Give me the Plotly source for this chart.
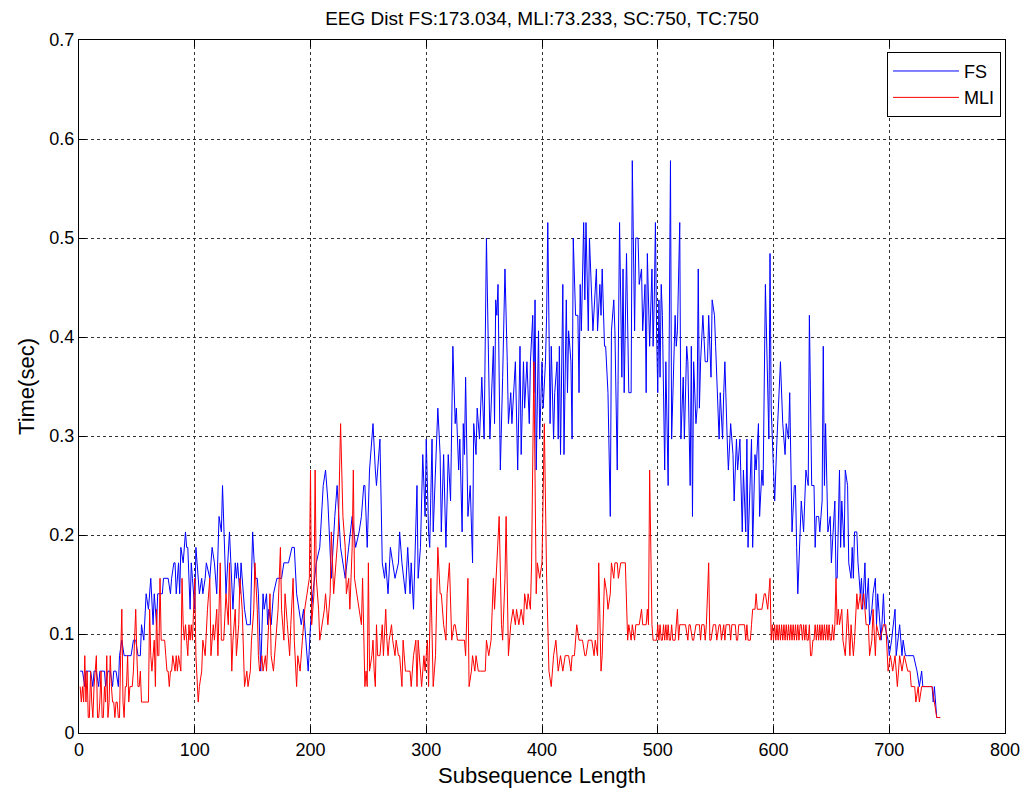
import plotly.graph_objects as go

# FS (blue) readings: x position and time in timer ticks (1 tick = 1/64 s)
fs_pts = [
 (1,4),(3,4),(5,3),(6,4),(8,4),(10,4),(12,3),(13,4),(15,4),(17,3),(18,4),(20,4),(22,4),(23,3),(25,4),(27,4),(29,3),(30,4),(32,4),(34,3),(35,5),(37,6),(39,5),(41,5),(43,5),(45,5),(47,6),(49,6),(51,5),(53,5),(54,7),(56,6),(58,9),(60,8),(62,10),(64,7),(65,9),(67,7),(68,9),(70,9),(72,9),(73,10),(75,10),(77,10),(79,9),(80,10),(82,11),
 (83,11),(84,9),(86,11),(87,9),(88,12),(90,11),(92,13),(93,12),(94,12),(96,8),(97,11),(98,10),(100,8),(101,12),(103,10),(104,9),(106,10),(107,9),(109,10),(110,11),(113,10),(115,12),(117,11),(119,9),(121,14),(123,13),(124,16),(126,12),(127,9),(130,13),(133,8),(135,11),(136,10),(137,11),(139,9),(140,11),(142,9),(143,8),(145,7),(148,7),(150,13),(152,10),(154,10),(155,9),(157,4),(159,9),(160,8),(162,9),
 (163,7),(164,8),(166,7),(168,9),(171,10),(173,10),(175,10),(177,11),(181,11),(184,12),(186,12),(188,9),(190,8),(192,7),(194,8),(196,6),(198,4),(200,7),(202,9),(205,11),(208,12),(211,16),(213,17),(215,15),(218,10),(221,14),(223,16),(226,12),(228,11),(230,10),(233,12),(236,14),(239,12),(242,13),(244,14),(246,16),
 (247,16),(249,12),(251,17),(254,20),(256,17),(257,16),(260,19),(262,11),(264,10),(265,11),(267,9),(269,12),(271,11),(273,10),(276,11),(277,13),(279,11),(282,9),(284,12),(286,9),(287,11),(289,8),(292,16),(293,10),(295,12),(297,18),(299,14),(300,19),(302,13),(303,12),(305,19),(306,13),(309,19),(310,21),(312,18),(313,13),(315,18),(317,12),(319,18),(321,15),(323,25),(325,20),(326,21),(328,17),(329,19),
 (331,13),(332,20),(333,18),(334,23),(336,14),(338,16),(340,11),(341,20),(343,18),(344,21),(346,19),(348,23),(350,19),(352,32),(355,19),(358,25),(359,20),(360,28),(361,27),(362,29),(364,17),(366,23),(368,30),(370,24),(371,20),(373,22),(374,20),(377,24),(379,17),(381,25),(382,18),(384,24),(385,21),(387,24),(389,20),(390,24),(392,27),(393,22),(394,28),(395,17),(397,26),(398,19),(400,24),(401,21),(403,24),(404,27),(405,33),(407,20),
 (408,25),(410,19),(411,22),(413,24),(414,19),(415,25),(416,18),(418,29),(419,18),(421,28),(422,22),(423,26),(425,24),(426,19),(427,32),(429,27),(431,27),(432,22),(433,29),(434,26),(436,33),(437,28),(438,33),(440,26),(441,32),(444,26),(447,30),(448,26),(450,29),(451,27),(452,30),(454,25),(455,25),(457,22),(459,14),(460,26),(462,28),(463,26),(465,17),(467,33),(469,23),(470,30),(471,22),(473,31),(475,22),(477,22),(478,37),(480,26),(481,32),(483,32),(484,29),(486,30),(487,26),(489,29),(490,22),(491,31),(493,25),(495,30),
 (496,25),(497,28),(498,33),(499,26),(500,22),(501,28),(502,23),(503,29),(504,27),(506,17),(507,24),(509,16),(511,37),(512,19),(515,27),(516,25),(517,26),(519,33),(520,19),(522,23),(523,19),(525,25),(526,24),(528,16),(529,25),(530,14),(531,24),(533,20),(534,21),(535,30),(536,21),(537,24),(539,27),(541,24),(543,24),(544,27),(546,23),(547,28),(549,27),(550,25),(553,19),(554,22),(556,19),(557,22),(558,24),(560,19),(561,17),(563,20),(565,18),(566,15),(568,19),(569,17),(571,19),(573,13),(574,17),(576,13),(577,19),(578,12),
 (579,14),(581,19),(582,12),(584,18),(585,17),(587,20),(588,14),(590,17),(591,16),(593,29),(596,19),(597,31),(598,21),(600,16),(601,15),(603,19),(606,24),(608,20),(610,18),(611,20),(613,19),(614,22),(616,13),(618,16),(619,16),(620,12),(621,9),(624,15),(626,13),(628,17),(630,16),(631,27),(633,16),(635,16),(636,12),(637,14),(639,14),(640,13),(642,15),(643,25),(644,16),(645,20),(647,13),(649,14),(650,11),(653,15),(654,10),(655,10),(656,14),(657,17),
 (658,12),(659,15),(661,12),(662,17),(664,16),(665,11),(667,10),(668,12),(669,10),(670,13),(672,13),(673,11),(675,9),(676,10),(677,8),(679,11),(680,8),(682,10),(683,7),(685,8),(686,9),(688,10),(689,7),(690,9),(693,6),(695,9),(696,7),(699,6),(700,5),(702,6),(705,8),(706,5),(709,7),(711,5),(712,6),(714,5),(716,5),(718,5),(721,5),(724,4),(726,3),(728,4),(729,3),(732,3),(734,3),(735,3),(737,3),(738,2),(739,3),(741,1),(744,1),
]

# MLI (red) readings
mli_pts = [
 (1,3),(2,2),(3,3),(4,2),(5,5),(6,2),(7,4),(8,1),(9,1),(10,4),(11,2),(12,1),(13,3),(14,4),(15,5),(16,1),(17,1),(18,2),(19,4),(20,1),(21,1),(22,3),(23,2),(24,5),(25,1),(26,2),(27,5),(28,3),(29,2),(30,2),(31,1),(32,2),(33,2),(34,1),(35,1),(36,5),(37,8),(38,2),(39,1),(40,3),(41,3),(42,5),(43,2),(44,3),(45,3),(46,3),(47,4),(48,6),(49,8),(50,5),(51,3),(52,3),(53,4),(54,2),(56,2),(58,2),(60,2),(61,8),(62,5),(63,4),(64,5),(65,6),(66,3),(67,8),(68,5),(69,5),(70,10),(71,6),(72,6),(73,6),(74,6),(75,5),(76,4),(77,4),(78,3),(79,4),(80,4),(81,5),
 (83,4),(84,5),(85,4),(86,5),(88,4),(89,10),(90,7),(91,6),(92,7),(93,6),(94,5),(95,7),(96,6),(97,7),(98,6),(100,10),(101,5),(103,2),(104,3),(106,4),(107,6),(109,5),(110,7),(111,8),(113,10),(114,5),(116,7),(117,6),(119,8),(120,5),(122,11),(123,6),(125,6),(126,8),(127,9),(129,7),(130,11),(132,4),(133,6),(135,8),(136,5),(138,7),(139,10),(141,8),(142,5),(143,3),(145,4),(146,3),(148,4),(149,6),(151,8),(152,11),(154,8),(155,5),(156,4),(158,5),(159,4),(161,5),(162,4),(164,8),(165,9),
 (166,5),(168,4),(170,6),(172,8),(174,12),(175,8),(177,6),(178,9),(180,7),(182,5),(183,7),(185,10),(186,6),(188,3),(189,5),(191,4),(193,6),(195,8),(197,9),(199,10),(200,17),(201,7),(203,9),(204,17),(205,10),(207,8),(208,6),(210,7),(212,8),(213,9),(215,7),(217,9),(218,13),(220,9),(222,11),(224,13),(226,20),(228,14),(230,12),(231,9),(233,10),(234,8),(236,12),(237,17),(238,10),(240,9),(242,8),(244,7),(245,10),(247,3),
 (248,4),(249,3),(250,11),(251,4),(253,5),(254,6),(255,4),(256,3),(257,7),(258,5),(260,5),(262,7),(263,5),(265,8),(266,6),(267,5),(268,6),(270,7),(271,6),(273,5),(274,6),(276,5),(277,5),(279,3),(280,6),(282,4),(283,4),(285,4),(286,4),(287,3),(289,5),(291,6),(292,3),(293,6),(295,4),(296,3),(298,5),(299,4),(301,6),(302,3),(304,10),(306,3),(308,5),(310,12),(312,9),(313,9),(315,7),(317,6),(318,9),(320,11),(322,6),(324,7),(325,7),(327,6),(328,6),
 (330,6),(332,6),(333,6),(334,5),(336,10),(337,3),(339,4),(340,5),(342,4),(343,5),(345,4),(347,4),(349,4),(351,4),(352,6),(354,5),(356,6),(358,10),(359,8),(361,11),(363,14),(365,7),(366,6),(368,10),(369,14),(371,5),(373,7),(375,8),(377,7),(378,8),(380,7),(382,8),(384,7),(385,9),(387,8),(388,9),(390,8),(391,11),(393,24),(395,9),(396,11),(398,10),(400,11),(402,20),(404,10),(406,4),
 (408,3),(410,5),(412,6),(414,4),(416,5),(418,4),(420,5),(423,5),(425,4),(426,5),(428,5),(430,7),(432,6),(435,6),(437,5),(438,5),(440,6),(443,6),(445,5),(446,6),(448,5),(449,11),(451,4),(452,5),(454,10),(456,9),(457,8),(459,9),(460,11),(462,10),(463,11),(465,11),(466,10),(468,11),(470,11),(472,11),(474,6),(475,7),(477,6),(478,7),(480,6),(481,7),(483,7),(484,7),(486,8),(487,7),(490,7),(491,8),(492,7),(493,17),(495,7),
 (496,6),(497,6),(498,6),(499,6),(500,7),(501,6),(502,7),(503,6),(504,6),(505,7),(506,6),(507,7),(508,6),(509,7),(510,6),(511,6),(512,7),(513,6),(515,6),(517,8),(518,6),(519,7),(521,7),(522,7),(524,7),(526,6),(527,7),(528,7),(530,6),(531,6),(533,7),(535,7),(536,7),(537,6),(538,7),(540,7),(541,6),(542,7),(544,11),(545,6),(546,6),(548,7),(549,7),(550,7),(551,6),(553,7),(554,7),(555,6),(557,7),(558,6),(559,7),(561,7),(562,7),(563,6),(564,7),(566,7),(567,7),(568,6),(569,6),(570,7),(572,7),(573,7),(575,7),(576,6),(577,7),
 (578,6),(579,6),(580,6),(581,7),(582,8),(584,8),(585,9),(586,8),(588,8),(590,8),(592,9),(593,9),(595,8),(597,10),(598,6),(599,7),(600,6),(601,7),(602,6),(603,7),(604,6),(605,7),(606,6),(607,7),(608,6),(609,7),(610,6),(611,7),(612,6),(613,7),(614,6),(615,7),(616,6),(617,7),(618,6),(619,7),(620,6),(621,7),(622,6),(623,7),(624,7),(625,6),(626,7),(627,6),(628,7),(629,6),(630,6),(631,7),(632,5),(633,5),(634,6),(635,6),(636,7),(637,6),(638,7),(639,6),(640,7),(641,6),(642,7),(643,6),(644,7),(645,6),(646,7),(647,6),(648,7),(649,6),(650,6),(651,7),(652,6),(653,7),(654,10),(655,7),(656,8),
 (657,7),(659,8),(660,6),(662,5),(664,8),(666,5),(667,7),(669,5),(670,6),(672,9),(673,8),(675,9),(676,8),(678,9),(679,8),(680,7),(682,7),(683,5),(685,6),(686,8),(688,5),(689,7),(692,6),(695,7),(697,7),(698,5),(699,4),(701,5),(703,4),(705,5),(707,3),(709,5),(711,4),(713,5),(716,4),(718,4),(719,3),(722,3),(723,2),(725,3),(726,2),(728,3),(731,3),(733,3),(735,3),(737,3),(739,2),(741,1),(744,1),
]

TICK = 1.0 / 64.0
fs_x = [p[0] for p in fs_pts]
fs_y = [p[1] * TICK for p in fs_pts]
mli_x = [p[0] for p in mli_pts]
mli_y = [p[1] * TICK for p in mli_pts]

x_ticks = list(range(0, 801, 100))
y_ticks = [0, 0.1, 0.2, 0.3, 0.4, 0.5, 0.6, 0.7]
y_labels = ["0", "0.1", "0.2", "0.3", "0.4", "0.5", "0.6", "0.7"]

FONT = "Liberation Sans, Arial, sans-serif"

# page body adds an 8px margin, so the figure is sized/offset to compensate
W, H = 1021, 789

fig = go.Figure()
fig.add_trace(go.Scatter(x=fs_x, y=fs_y, mode="lines", name="FS",
                         line=dict(color="#0000FF", width=1)))
fig.add_trace(go.Scatter(x=mli_x, y=mli_y, mode="lines", name="MLI",
                         line=dict(color="#FF0000", width=1)))

axis_common = dict(
    showline=True, linecolor="black", linewidth=1, mirror="ticks",
    ticks="inside", ticklen=7, tickcolor="black",
    showgrid=True, gridcolor="#333333", griddash="dot", gridwidth=1,
    zeroline=False, tickfont=dict(family=FONT, size=18, color="black"),
)

fig.update_layout(
    width=W, height=H,
    margin=dict(l=71, r=24, t=32, b=64),
    paper_bgcolor="white", plot_bgcolor="white",
    font=dict(family=FONT, color="black"),
    title=dict(text="EEG Dist FS:173.034, MLI:73.233, SC:750, TC:750",
               x=0.5, xref="paper", xanchor="center",
               y=1 - 4 / H, yref="container", yanchor="top",
               font=dict(family=FONT, size=19, color="black")),
    xaxis=dict(range=[0, 800], tickvals=x_ticks, ticktext=[str(v) for v in x_ticks],
               title=dict(text="Subsequence Length", standoff=9,
                          font=dict(family=FONT, size=22, color="black")),
               automargin=False, **axis_common),
    yaxis=dict(range=[0, 0.7], tickvals=y_ticks, ticktext=y_labels,
               title=dict(text="Time(sec)", standoff=8,
                          font=dict(family=FONT, size=22, color="black")),
               automargin=False, **axis_common),
    legend=dict(x=0.9957, y=0.983, xanchor="right", yanchor="top",
                bgcolor="white", bordercolor="black", borderwidth=1,
                font=dict(family=FONT, size=18, color="black"),
                itemwidth=66, tracegroupgap=0),
    showlegend=True,
)

fig.write_html("out.html")
